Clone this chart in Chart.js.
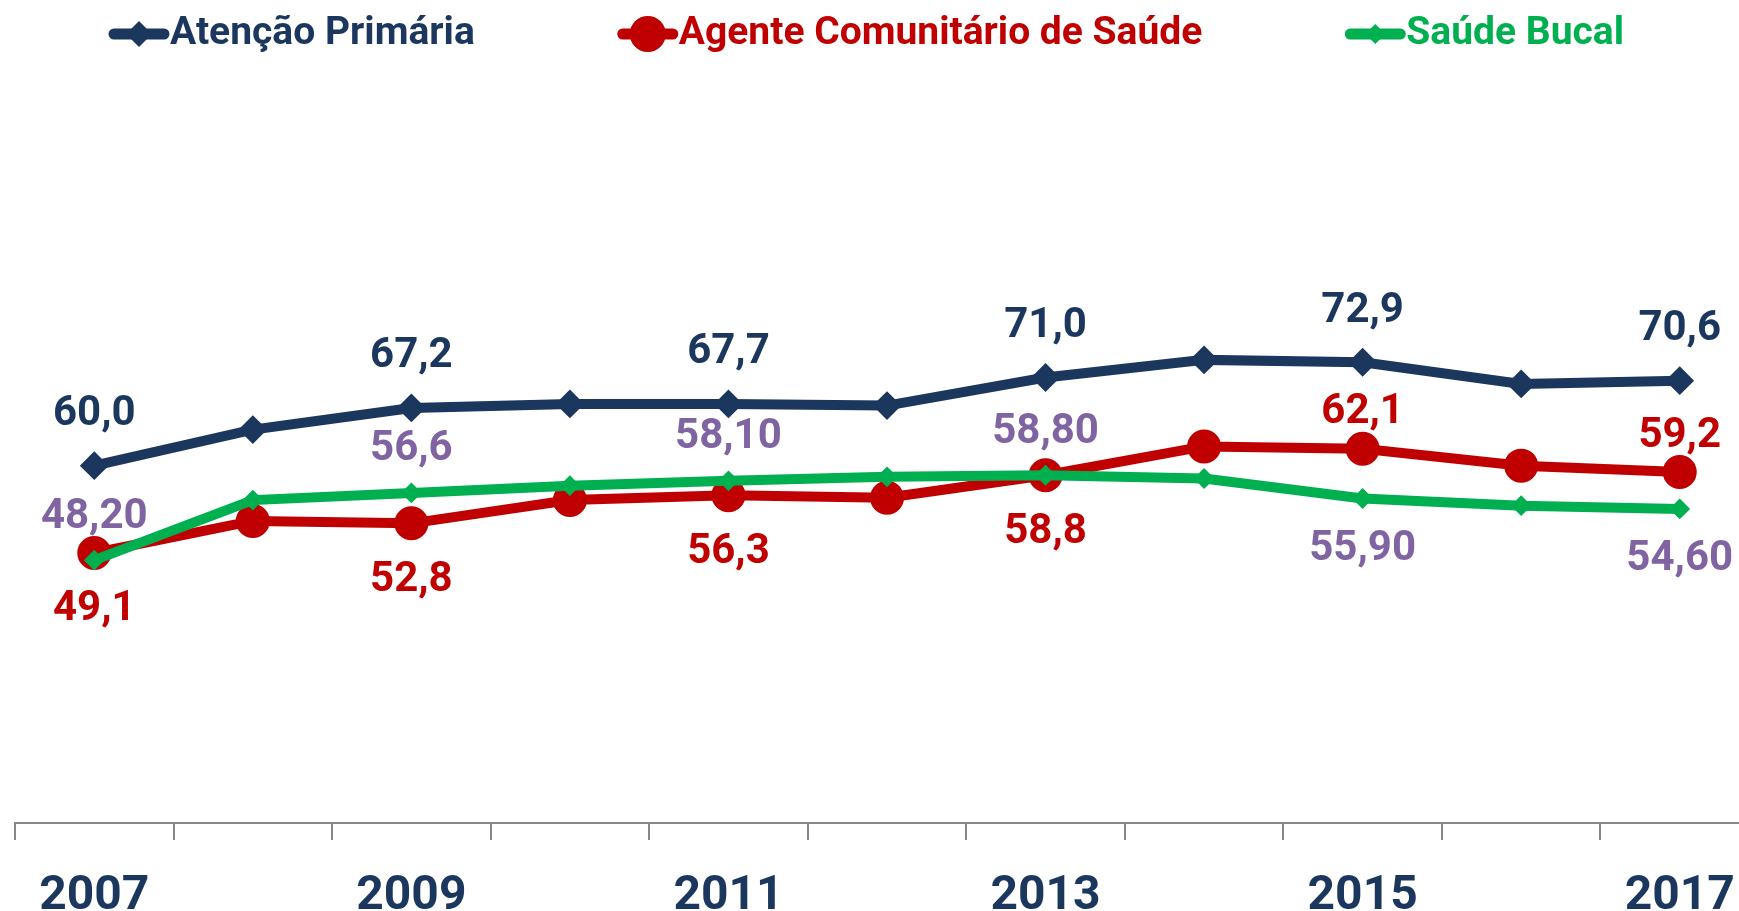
<!DOCTYPE html>
<html>
  <head>
    <meta charset="utf-8">
    <script src="https://cdn.jsdelivr.net/npm/chart.js"></script>
    <style>
      html, body { margin: 0; padding: 0; background: #fff; overflow: hidden; }
      canvas { display: block; margin-left: -3px; }
    </style>
  </head>
  <body>
    <canvas id="grafico" width="1780" height="911"></canvas>
    <script>
      // dados
      const anos = ['2007', '2008', '2009', '2010', '2011', '2012', '2013', '2014', '2015', '2016', '2017'];

      const atencaoPrimaria = [60.0, 64.5, 67.2, 67.7, 67.7, 67.5, 71.0, 73.2, 72.9, 70.2, 70.6];
      const agenteComunitario = [49.1, 53.1, 52.8, 55.7, 56.3, 56.0, 58.8, 62.4, 62.1, 60.0, 59.2];
      const saudeBucal = [48.2, 55.7, 56.6, 57.5, 58.1, 58.6, 58.8, 58.4, 55.9, 55.0, 54.6];

      // rótulos que aparecem no gráfico (só anos ímpares)
      const rotulosAtencao = ['60,0', null, '67,2', null, '67,7', null, '71,0', null, '72,9', null, '70,6'];
      const rotulosAgente = ['49,1', null, '52,8', null, '56,3', null, '58,8', null, '62,1', null, '59,2'];
      const rotulosBucal = ['48,20', null, '56,6', null, '58,10', null, '58,80', null, '55,90', null, '54,60'];

      const AZUL = '#1B375E';
      const VERMELHO = '#C00000';
      const VERDE = '#00B050';
      const ROXO = '#8064A2';
      const CINZA = '#878787';
      const FONTE = 'Roboto';

      // desenha o marcador (losango ou círculo)
      function marcador(ctx, estilo, x, y, r, cor) {
        ctx.fillStyle = cor;
        ctx.beginPath();
        if (estilo === 'circle') {
          ctx.arc(x, y, r, 0, Math.PI * 2);
        } else {
          ctx.moveTo(x - r, y);
          ctx.lineTo(x, y - r);
          ctx.lineTo(x + r, y);
          ctx.lineTo(x, y + r);
          ctx.closePath();
        }
        ctx.fill();
      }

      // legenda no topo: linha + marcador + texto
      const legendaPlugin = {
        id: 'legendaLinha',
        afterDraw(chart) {
          const ctx = chart.ctx;
          ctx.save();
          ctx.font = 'bold 39px ' + FONTE;
          const iconeW = 62, espaco = 142, y = 34;
          const itens = chart.data.datasets.map(ds => ({ ds: ds, w: ctx.measureText(ds.label).width }));
          const total = itens.reduce((s, it) => s + iconeW + it.w, 0) + espaco * (itens.length - 1);
          let x = 869 - total / 2;
          itens.forEach(it => {
            const ds = it.ds;
            ctx.strokeStyle = ds.borderColor;
            ctx.lineWidth = 11;
            ctx.lineCap = 'round';
            ctx.beginPath();
            ctx.moveTo(x + 6, y);
            ctx.lineTo(x + iconeW - 6, y);
            ctx.stroke();
            marcador(ctx, ds.pointStyle, x + iconeW / 2, y, ds.legendaRaio, ds.borderColor);
            ctx.fillStyle = ds.borderColor;
            ctx.textAlign = 'left';
            ctx.textBaseline = 'middle';
            ctx.fillText(ds.label, x + iconeW, y);
            x += iconeW + it.w + espaco;
          });
          ctx.restore();
        }
      };

      // rótulos de valor
      const rotulosPlugin = {
        id: 'rotulosValor',
        afterDatasetsDraw(chart) {
          const ctx = chart.ctx;
          ctx.save();
          ctx.font = 'bold 42px ' + FONTE;
          ctx.textAlign = 'center';
          ctx.textBaseline = 'middle';
          chart.data.datasets.forEach((ds, i) => {
            const meta = chart.getDatasetMeta(i);
            ds.rotulos.forEach((txt, j) => {
              if (!txt) return;
              const p = meta.data[j];
              ctx.fillStyle = ds.corRotulo;
              ctx.fillText(txt, p.x, p.y + ds.deslocamento(j));
            });
          });
          ctx.restore();
        }
      };

      const ctx = document.getElementById('grafico').getContext('2d');
      new Chart(ctx, {
        type: 'line',
        data: {
          labels: anos,
          datasets: [
            {
              label: 'Atenção Primária',
              data: atencaoPrimaria,
              borderColor: AZUL,
              backgroundColor: AZUL,
              borderWidth: 10,
              pointStyle: 'rectRot',
              pointRadius: 13,
              pointBorderWidth: 2,
              pointHoverRadius: 13,
              legendaRaio: 13,
              rotulos: rotulosAtencao,
              corRotulo: AZUL,
              deslocamento: () => -51,
              order: 2
            },
            {
              label: 'Agente Comunitário de Saúde',
              data: agenteComunitario,
              borderColor: VERMELHO,
              backgroundColor: VERMELHO,
              borderWidth: 10,
              pointStyle: 'circle',
              pointRadius: 16,
              pointBorderWidth: 2,
              pointHoverRadius: 16,
              legendaRaio: 18,
              rotulos: rotulosAgente,
              corRotulo: VERMELHO,
              deslocamento: j => j >= 8 ? -36 : 57,
              order: 1
            },
            {
              label: 'Saúde Bucal',
              data: saudeBucal,
              borderColor: VERDE,
              backgroundColor: VERDE,
              borderWidth: 10,
              pointStyle: 'rectRot',
              pointRadius: 9,
              pointBorderWidth: 2,
              pointHoverRadius: 9,
              legendaRaio: 10,
              rotulos: rotulosBucal,
              corRotulo: ROXO,
              deslocamento: j => j >= 8 ? 51 : -43,
              order: 0
            }
          ]
        },
        options: {
          responsive: false,
          animation: false,
          layout: { padding: { left: 10, right: 1, top: 182, bottom: 0 } },
          plugins: {
            legend: { display: false },
            tooltip: { enabled: false }
          },
          elements: { line: { tension: 0 } },
          scales: {
            x: {
              offset: true,
              grid: {
                offset: true,
                drawOnChartArea: false,
                drawTicks: true,
                tickLength: 17,
                color: CINZA,
                lineWidth: 2
              },
              border: { display: true, color: CINZA, width: 2 },
              ticks: {
                autoSkip: false,
                maxRotation: 0,
                padding: 28,
                color: AZUL,
                font: { family: FONTE, size: 48, weight: 'bold' },
                callback: function (v, i) { return i % 2 === 0 ? this.getLabelForValue(v) : ''; }
              },
              afterFit: s => { s.height = 88; }
            },
            y: {
              display: false,
              min: 15.4,
              max: 95.4
            }
          }
        },
        plugins: [rotulosPlugin, legendaPlugin]
      });
    </script>
  </body>
</html>
